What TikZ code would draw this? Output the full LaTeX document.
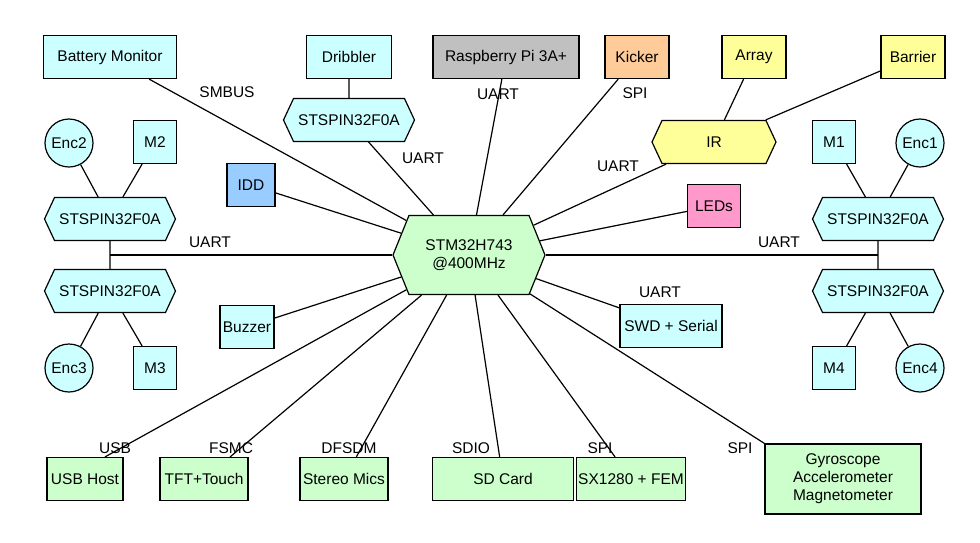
\documentclass[tikz,border=0pt]{standalone}
\usepackage{fontspec}
\setmainfont{Liberation Sans}
\usetikzlibrary{shapes.symbols}
\tikzset{every picture/.style={line width=1.2pt}}
\tikzset{
  blk/.style={draw, minimum height=43pt, inner sep=2pt, font=\fontsize{15.5}{18}\selectfont},
  hexa/.style={blk, signal, signal to=west and east, signal pointer angle=130},
  enc/.style={draw, circle, minimum size=48pt, inner sep=0pt, fill=cyanish, font=\fontsize{15.5}{18}\selectfont},
  lbl/.style={font=\fontsize{15.5}{18}\selectfont},
}
\definecolor{cyanish}{RGB}{204,255,255}
\definecolor{greenish}{RGB}{204,255,204}
\definecolor{grayish}{RGB}{192,192,192}
\definecolor{orangish}{RGB}{255,204,153}
\definecolor{yellowish}{RGB}{255,255,153}
\definecolor{bluish}{RGB}{153,204,255}
\definecolor{pinkish}{RGB}{255,153,204}
\begin{document}
\begin{tikzpicture}[x=1pt,y=1pt,yscale=-1]
\useasboundingbox (0,0) rectangle (980,542);

% central processor
\node[hexa, fill=greenish, minimum width=152pt, minimum height=79pt, signal pointer angle=136, align=center] (mcu) at (469,255) {STM32H743\\@400MHz};

% top row
\node[blk, fill=cyanish, minimum width=133pt] (batt) at (110,57) {Battery Monitor};
\node[blk, fill=cyanish, minimum width=85pt] (drib) at (349,57) {Dribbler};
\node[hexa, fill=cyanish, minimum width=131pt] (drv) at (349,120) {STSPIN32F0A};
\node[blk, fill=grayish, minimum width=146pt] (rpi) at (506,57) {Raspberry Pi 3A+};
\node[blk, fill=orangish, minimum width=64pt] (kick) at (637,57) {Kicker};
\node[blk, fill=yellowish, minimum width=64pt] (arr) at (754,57) {Array};
\node[blk, fill=yellowish, minimum width=64pt] (bar) at (913,57) {Barrier};
\node[hexa, fill=yellowish, minimum width=124pt] (ir) at (714,142) {IR};
\node[blk, fill=bluish, minimum width=48pt] (idd) at (251,185) {IDD};
\node[blk, fill=pinkish, minimum width=53pt] (leds) at (714,206) {LEDs};
\node[blk, fill=cyanish, minimum width=54pt] (buz) at (247,327) {Buzzer};
\node[blk, fill=cyanish, minimum width=102pt] (swd) at (671,326) {SWD + Serial};

% motors left
\node[enc] (enc2) at (69,143) {Enc2};
\node[blk, fill=cyanish, minimum width=43pt] (m2) at (155,142) {M2};
\node[hexa, fill=cyanish, minimum width=131pt] (drv2) at (110,219) {STSPIN32F0A};
\node[hexa, fill=cyanish, minimum width=131pt] (drv3) at (110,291) {STSPIN32F0A};
\node[enc] (enc3) at (69,368) {Enc3};
\node[blk, fill=cyanish, minimum width=43pt] (m3) at (155,368) {M3};

% motors right
\node[blk, fill=cyanish, minimum width=43pt] (m1) at (834,142) {M1};
\node[enc] (enc1) at (920,143) {Enc1};
\node[hexa, fill=cyanish, minimum width=131pt] (drv1) at (878,219) {STSPIN32F0A};
\node[hexa, fill=cyanish, minimum width=131pt] (drv4) at (878,291) {STSPIN32F0A};
\node[blk, fill=cyanish, minimum width=43pt] (m4) at (834,368) {M4};
\node[enc] (enc4) at (920,368) {Enc4};

% bottom row
\node[blk, fill=greenish, minimum width=76pt] (usb) at (85,479) {USB Host};
\node[blk, fill=greenish, minimum width=88pt] (tft) at (204,479) {TFT+Touch};
\node[blk, fill=greenish, minimum width=88pt] (mic) at (344,479) {Stereo Mics};
\node[blk, fill=greenish, minimum width=141pt] (sd) at (503,479) {SD Card};
\node[blk, fill=greenish, minimum width=107pt] (sx) at (631,479) {SX1280 + FEM};
\node[blk, fill=greenish, minimum width=156pt, minimum height=70pt, align=center] (gyro) at (843,479) {Gyroscope\\Accelerometer\\Magnetometer};

\coordinate (jl) at (110,255);
\coordinate (jr) at (878,255);

% connectors
\draw (batt.south east) ++(-28,0) coordinate (bs) (bs) -- (mcu);
\draw (drib) -- (drv);
\draw (drv) -- (mcu);
\draw (rpi) -- (mcu);
\draw (kick) -- (mcu);
\draw (arr) -- (ir);
\draw (bar) -- (ir);
\draw (ir) -- (mcu);
\draw (idd) -- (mcu);
\draw (leds) -- (mcu);
\draw (buz) -- (mcu);
\draw (swd) -- (mcu);
\draw (enc2) -- (drv2);
\draw (m2) -- (drv2);
\draw (enc3) -- (drv3);
\draw (m3) -- (drv3);
\draw (enc1) -- (drv1);
\draw (m1) -- (drv1);
\draw (enc4) -- (drv4);
\draw (m4) -- (drv4);
\draw (drv2) -- (drv3);
\draw (drv1) -- (drv4);
\draw (jl) -- (mcu.west);
\draw (jr) -- (mcu.east);
\draw (usb.north) ++(20,0) coordinate (us) (us) -- (mcu);
\draw (tft) -- (mcu);
\draw (mic) -- (mcu);
\draw (sd) -- (mcu);
\draw (sx) -- (mcu);
\draw (gyro.north west) -- (mcu);

% bus labels
\node[lbl] (l1) at (227,92) {SMBUS};
\node[lbl] (l2) at (423,158) {UART};
\node[lbl] (l3) at (498,94) {UART};
\node[lbl] (l4) at (635,93) {SPI};
\node[lbl] (l5) at (618,166) {UART};
\node[lbl] (l6) at (210,242) {UART};
\node[lbl] (l7) at (779,242) {UART};
\node[lbl] (l8) at (660,292) {UART};
\node[lbl] (l9) at (115,448) {USB};
\node[lbl] (l10) at (231,448) {FSMC};
\node[lbl] (l11) at (349,448) {DFSDM};
\node[lbl] (l12) at (471,448) {SDIO};
\node[lbl] (l13) at (600,448) {SPI};
\node[lbl] (l14) at (740,448) {SPI};
\end{tikzpicture}
\end{document}
